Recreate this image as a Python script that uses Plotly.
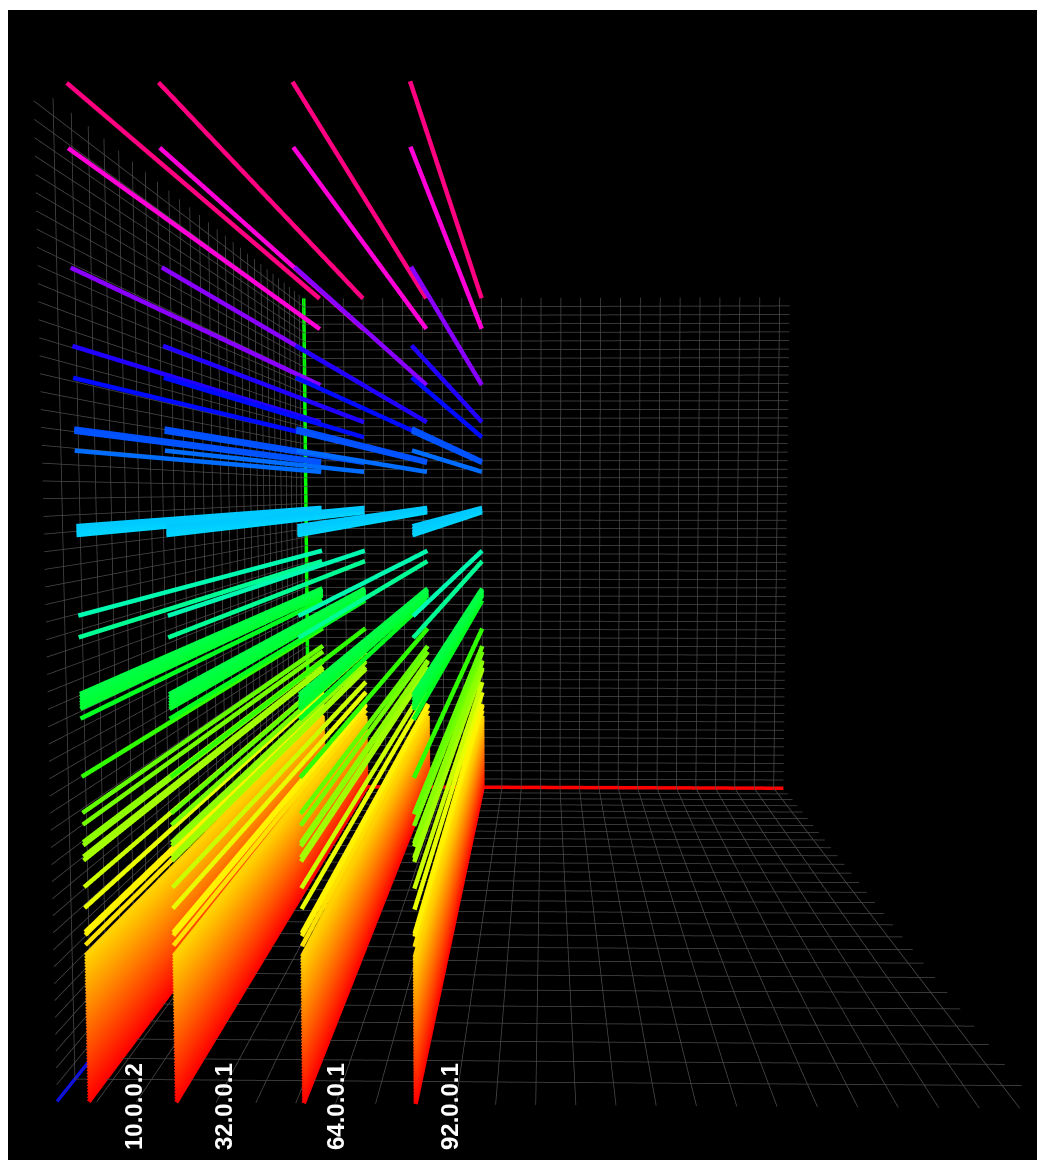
import plotly.graph_objects as go

# Source hosts (first octet gives the position on the horizontal axis)
hosts = ["10.0.0.2", "32.0.0.1", "64.0.0.1", "92.0.0.1"]
host_octet = [10, 32, 64, 92]

# Ports seen, sparse upper part
upper_ports = [65500, 61500, 54100, 49200, 47200, 44000, 43900, 43800, 42600,
               37800, 37600, 37400, 37230, 32060, 30660,
               26990, 26800, 26600, 26410, 26220, 26030, 25390, 21600,
               19230, 18460, 17300, 17100, 16350, 16100, 14340, 12960,
               11365, 11170, 10500]
# Densely scanned low ports
low_ports = [9800, 9600, 9400, 9200, 9000, 8800, 8600, 8400, 8200, 8000, 7800, 7600, 7400, 7200,
             7000, 6800, 6600, 6400, 6200, 6000, 5800, 5600, 5400, 5200, 5000, 4800,
             4600, 4400, 4200, 4000, 3800, 3600, 3400, 3200, 3000, 2800, 2600, 2400,
             2200, 2000, 1800, 1600, 1400, 1200, 1000, 800, 600, 400, 200, 0]
# Time span of every flow, on the depth axis
time_start = 0
time_end = 28

hue_scale = ["#ff0000", "#ff8000", "#ffff00", "#80ff00", "#00ff00", "#00ff80",
             "#00f0ff", "#0080ff", "#0000ff", "#8000ff", "#ff00ff", "#ff0080"]

x_extent = [2, 247]
y_extent = [0, 65535]
z_extent = [0, 28]
x_dtick = 10
y_dtick = 1130
z_dtick = 1
grid_color = "#4a4a4a"

colorscale = [[i / (len(hue_scale) - 1), c] for i, c in enumerate(hue_scale)]
ports = upper_ports + low_ports


def ticks(rng, step):
    out = []
    v = rng[0]
    while v <= rng[1] + 1e-6:
        out.append(v)
        v += step
    return out


x_ticks = ticks(x_extent, x_dtick)
y_ticks = ticks(y_extent, y_dtick)
z_ticks = ticks([0, 27], z_dtick)

# wall grids: back wall, left wall and floor
gx, gy, gz = [], [], []


def seg(a, b):
    gx.extend([a[0], b[0], None])
    gy.extend([a[1], b[1], None])
    gz.extend([a[2], b[2], None])


x0, x1 = x_extent
y0, y1 = y_extent
z0, z1 = z_extent
for x in x_ticks:
    seg((x, y0, z0), (x, y1, z0))
    seg((x, y0, z0), (x, y0, z1))
for y in y_ticks:
    seg((x0, y, z0), (x1, y, z0))
    seg((x0, y, z0), (x0, y, z1))
for z in z_ticks:
    seg((x0, y0, z), (x1, y0, z))
    seg((x0, y0, z), (x0, y1, z))

fig = go.Figure()
fig.add_trace(go.Scatter3d(x=gx, y=gy, z=gz, mode="lines", name="grid", showlegend=False,
                           hoverinfo="skip", line=dict(width=1.5, color=grid_color)))

for host, octet in zip(hosts, host_octet):
    xs, ys, zs, cs = [], [], [], []
    for p in ports:
        xs += [octet, octet, None]
        ys += [p, p, None]
        zs += [time_start, time_end, None]
        cs += [p, p, p]
    fig.add_trace(go.Scatter3d(
        x=xs, y=ys, z=zs, mode="lines", name=host, showlegend=False, hoverinfo="skip",
        line=dict(width=9, color=cs, colorscale=colorscale, cmin=0, cmax=65535),
        connectgaps=False))

axis_traces = [
    ("x", x_extent, [0, 0], [0, 0], "#ff0000"),
    ("y", [x0, x0], y_extent, [0, 0], "#00ff00"),
    ("z", [x0, x0], [0, 0], z_extent, "#0000ff"),
]
for name, ax, ay, az, col in axis_traces:
    fig.add_trace(go.Scatter3d(x=ax, y=ay, z=az, mode="lines", name=name, showlegend=False,
                               hoverinfo="skip", line=dict(width=7, color=col)))


def axis(rng):
    return dict(range=rng, showgrid=False, showticklabels=False, title="", zeroline=False,
                showline=False, ticks="", showbackground=False, showspikes=False)


fig.update_layout(
    width=1029, height=1150,
    margin=dict(l=0, r=0, t=0, b=0),
    paper_bgcolor="#000000",
    showlegend=False,
    scene=dict(
        bgcolor="#000000",
        domain=dict(x=[0, 1], y=[0, 1]),
        xaxis=axis([1.5, 247.5]),
        yaxis=axis([-300, 65835]),
        zaxis=axis([-0.2, 29.2]),
        aspectmode="manual",
        aspectratio=dict(x=1.004, y=1.0293, z=1.593),
        camera=dict(
            eye=dict(x=-0.0012, y=0.113, z=2.105),
            center=dict(x=-0.0356, y=-0.0293, z=0),
            up=dict(x=0, y=1, z=0),
            projection=dict(type="perspective"),
        ),
    ),
)
label_x = [133, 223, 335, 449]
for host, lx in zip(hosts, label_x):
    fig.add_annotation(text="<b>%s</b>" % host, xref="paper", yref="paper",
                       x=(lx - 8) / 1029, y=(1160 - 1107) / 1150, textangle=-90, showarrow=False,
                       xanchor="center", yanchor="middle",
                       font=dict(family="Liberation Sans", size=24, color="#ffffff"))

fig.write_html("out.html", config=dict(displayModeBar=False),
               post_script="document.body.style.margin='10px 0 0 8px';")
